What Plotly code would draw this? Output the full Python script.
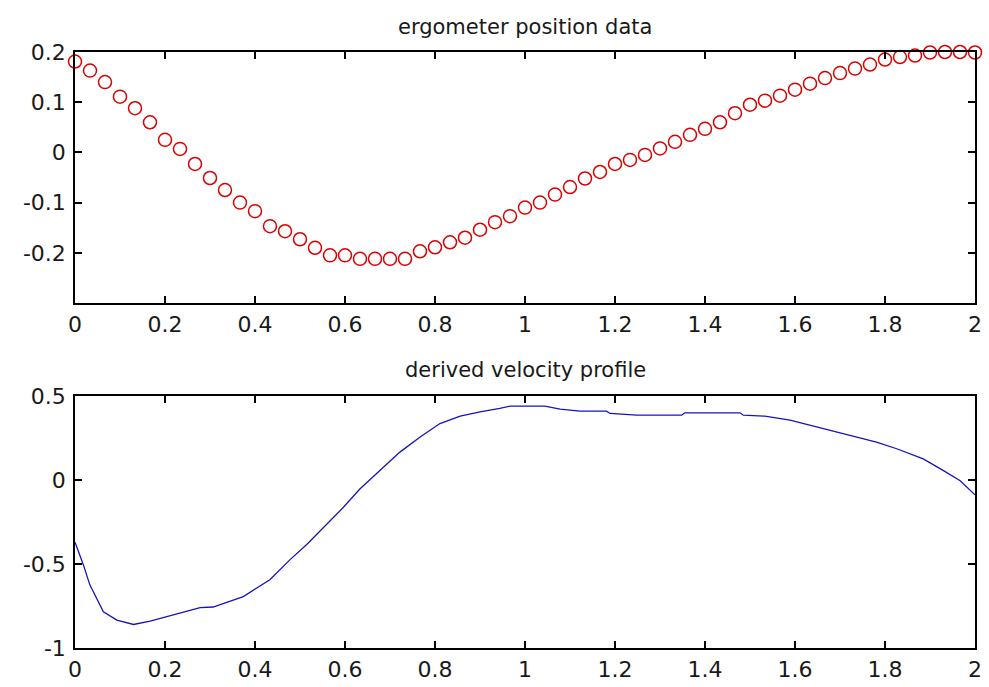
import plotly.graph_objects as go

# ---- data ----
pos_t = [i / 30 for i in range(61)]
pos_y = [0.181, 0.163, 0.140, 0.111, 0.088, 0.060, 0.025, 0.007, -0.023, -0.051,
         -0.075, -0.100, -0.117, -0.147, -0.157, -0.173, -0.190, -0.205, -0.205, -0.212,
         -0.212, -0.212, -0.212, -0.197, -0.189, -0.179, -0.170, -0.154, -0.139, -0.127,
         -0.110, -0.100, -0.084, -0.069, -0.052, -0.039, -0.023, -0.015, -0.005, 0.008,
         0.021, 0.035, 0.047, 0.060, 0.078, 0.095, 0.103, 0.113, 0.125, 0.137,
         0.148, 0.158, 0.167, 0.175, 0.185, 0.190, 0.193, 0.199, 0.200, 0.200, 0.199]

vel_t = [0.0, 0.0185, 0.033, 0.063, 0.093, 0.13, 0.167, 0.204, 0.278, 0.307,
         0.374, 0.433, 0.478, 0.515, 0.552, 0.596, 0.633, 0.678, 0.722, 0.767,
         0.811, 0.856, 0.9, 0.944, 0.967, 1.0, 1.044, 1.078, 1.122, 1.181,
         1.189, 1.248, 1.348, 1.355, 1.478, 1.485, 1.533, 1.589, 1.663, 1.737,
         1.781, 1.826, 1.885, 1.93, 1.967, 2.0]
vel_y = [-0.37, -0.504, -0.624, -0.784, -0.834, -0.86, -0.84, -0.814, -0.76, -0.756,
         -0.694, -0.594, -0.474, -0.384, -0.284, -0.164, -0.054, 0.056, 0.166, 0.256,
         0.336, 0.38, 0.406, 0.426, 0.44, 0.44, 0.44, 0.422, 0.41, 0.41,
         0.396, 0.386, 0.386, 0.40, 0.40, 0.386, 0.38, 0.356, 0.306, 0.256,
         0.226, 0.186, 0.126, 0.056, -0.004, -0.088]

x_ticks = [0, 0.2, 0.4, 0.6, 0.8, 1, 1.2, 1.4, 1.6, 1.8, 2]
x_tick_labels = ["0", "0.2", "0.4", "0.6", "0.8", "1", "1.2", "1.4", "1.6", "1.8", "2"]
y1_ticks = [-0.2, -0.1, 0, 0.1, 0.2]
y1_tick_labels = ["-0.2", "-0.1", "0", "0.1", "0.2"]
y2_ticks = [-1, -0.5, 0, 0.5]
y2_tick_labels = ["-1", "-0.5", "0", "0.5"]

titles = ["ergometer position data", "derived velocity profile"]

# ---- figure ----
W, H = 989, 687
fig = go.Figure()
fig.add_trace(go.Scatter(x=pos_t, y=pos_y, mode="markers", xaxis="x", yaxis="y",
                         cliponaxis=False,
                         marker=dict(symbol="circle-open", size=13, color="rgb(220,0,0)",
                                     line=dict(width=1.5, color="rgb(220,0,0)")),
                         showlegend=False))
fig.add_trace(go.Scatter(x=vel_t, y=vel_y, mode="lines", xaxis="x2", yaxis="y2",
                         line=dict(color="rgb(20,20,190)", width=1.3),
                         showlegend=False))

tick_font = dict(family="DejaVu Sans, sans-serif", size=22, color="rgb(25,25,25)")
title_font = dict(family="DejaVu Sans, sans-serif", size=21, color="rgb(25,25,25)")
xd = [75 / W, 975 / W]
axis_common = dict(showline=True, linecolor="black", linewidth=1.5, mirror="ticks",
                   ticks="inside", ticklen=7, tickwidth=1.5, tickcolor="black",
                   showgrid=False, zeroline=False, tickfont=tick_font, automargin=False)

fig.update_layout(
    width=W, height=H, margin=dict(l=0, r=0, t=0, b=0, autoexpand=False),
    paper_bgcolor="white", plot_bgcolor="white",
    xaxis=dict(domain=xd, range=[0, 2], tickvals=x_ticks, ticktext=x_tick_labels,
               anchor="y", ticklabelstandoff=1, **axis_common),
    yaxis=dict(domain=[1 - 303 / H, 1 - 52 / H], range=[-0.3, 0.2], tickvals=y1_ticks,
               ticktext=y1_tick_labels, anchor="x", ticklabelstandoff=3, **axis_common),
    xaxis2=dict(domain=xd, range=[0, 2], tickvals=x_ticks, ticktext=x_tick_labels,
                anchor="y2", ticklabelstandoff=1, **axis_common),
    yaxis2=dict(domain=[1 - 648 / H, 1 - 396 / H], range=[-1, 0.5], tickvals=y2_ticks,
                ticktext=y2_tick_labels, anchor="x2", ticklabelstandoff=3, **axis_common),
    annotations=[
        dict(text=titles[0], x=0.5 * (xd[0] + xd[1]), y=1 - 27 / H, xref="paper", yref="paper",
             showarrow=False, font=title_font, xanchor="center", yanchor="middle"),
        dict(text=titles[1], x=0.5 * (xd[0] + xd[1]), y=1 - 370 / H, xref="paper", yref="paper",
             showarrow=False, font=title_font, xanchor="center", yanchor="middle"),
    ],
)

fig.write_html("out.html")
